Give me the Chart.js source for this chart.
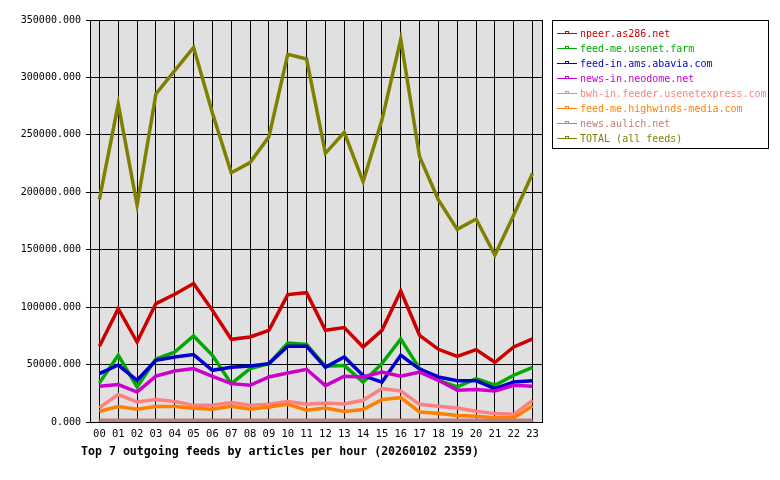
<!DOCTYPE html>
<html>
<head>
<meta charset="utf-8">
<script src="https://cdn.jsdelivr.net/npm/chart.js@4/dist/chart.umd.min.js"></script>
<style>
    html, body { margin: 0; padding: 0; background: #fff; }
    #wrap { position: relative; width: 780px; height: 480px; }
    #chart { position: absolute; left: 0; top: 0; }
    #title {
        position: absolute; left: 81px; top: 444px;
        font: bold 11.6px "DejaVu Sans Mono", monospace; color: #000; white-space: pre;
    }
    #legend {
        position: absolute; left: 552px; top: 20px; width: 217px; height: 129px;
        border: 1px solid #000; box-sizing: border-box; padding-top: 5px;
        font: 10px "DejaVu Sans Mono", monospace;
    }
    .row { position: relative; height: 15px; line-height: 15px; white-space: pre; }
    .swatch { position: absolute; left: 4px; top: 7px; width: 20px; height: 1px; }
    .mark { position: absolute; left: 8px; top: -2px; width: 2px; height: 1px; border: 1px solid; border-bottom: none; }
    .label { position: absolute; left: 27px; top: 0; }
</style>
</head>
<body>
<div id="wrap">
    <canvas id="chart" width="780" height="480"></canvas>
    <div id="title">Top 7 outgoing feeds by articles per hour (20260102 2359)</div>
    <div id="legend"></div>
</div>
<script>
const hours = ['00', '01', '02', '03', '04', '05', '06', '07', '08', '09', '10', '11',
    '12', '13', '14', '15', '16', '17', '18', '19', '20', '21', '22', '23'];

const yTicks = [0, 50000, 100000, 150000, 200000, 250000, 300000, 350000];

const npeer = [65900, 98700, 69600, 103100, 111200, 120500, 97200, 72000, 74000, 79800, 110900, 112600,
    79800, 82200, 65300, 79800, 114000, 75500, 63300, 57200, 63000, 52000, 65300, 72300];
const usenetFarm = [34000, 58100, 30500, 54800, 60900, 74900, 58100, 33400, 46500, 50800, 68800, 67600,
    48500, 49100, 34800, 50800, 72300, 46500, 36300, 30500, 37800, 32000, 40700, 47600];
const abavia = [42100, 49600, 36300, 53700, 56600, 58700, 45000, 47600, 48800, 50800, 65900, 65900,
    47600, 56600, 40400, 34600, 58100, 46100, 39200, 36000, 36000, 29100, 34800, 36000];
const neodome = [31100, 32600, 26100, 40000, 44400, 46500, 39800, 33400, 32000, 39200, 42700, 45900,
    31700, 39800, 39200, 43500, 39800, 43500, 36300, 27600, 28200, 27000, 32000, 31100];
const usenetexpress = [12500, 23900, 17400, 19500, 17800, 14500, 14500, 16900, 14500, 15400, 17800, 15400,
    16500, 15700, 18900, 29100, 27000, 15400, 13700, 12200, 9300, 7300, 6700, 18900];
const highwinds = [9300, 13400, 11100, 13400, 13400, 11900, 11100, 13700, 11100, 13100, 15400, 10200,
    12200, 9100, 10800, 19500, 21200, 8700, 7300, 5600, 5000, 3800, 3800, 13900];
const aulich = [1600, 1600, 1600, 1600, 1600, 1600, 1600, 1600, 1600, 1600, 1600, 1600,
    1600, 1600, 1600, 1600, 1600, 1600, 1600, 1600, 1600, 1600, 1600, 1600];
const total = [193900, 276800, 188900, 285600, 306000, 326200, 269000, 217000, 225800, 248400, 320100, 316000,
    233900, 252200, 209200, 262900, 333200, 231000, 193300, 167700, 176700, 145400, 180200, 216500];

const feeds = [
    { label: 'npeer.as286.net', data: npeer, color: '#cc0000' },
    { label: 'feed-me.usenet.farm', data: usenetFarm, color: '#00aa00' },
    { label: 'feed-in.ams.abavia.com', data: abavia, color: '#0000cc' },
    { label: 'news-in.neodome.net', data: neodome, color: '#cc00cc' },
    { label: 'bwh-in.feeder.usenetexpress.com', data: usenetexpress, color: '#ff8080' },
    { label: 'feed-me.highwinds-media.com', data: highwinds, color: '#ff8000' },
    { label: 'news.aulich.net', data: aulich, color: '#c08080' },
    { label: 'TOTAL (all feeds)', data: total, color: '#808000' },
];

Chart.defaults.font.family = '"DejaVu Sans Mono", monospace';
Chart.defaults.font.size = 10;
Chart.defaults.color = '#000';

// grey plot background + right-hand frame line
const plotFrame = {
    id: 'plotFrame',
    beforeDraw(chart) {
        const { ctx, chartArea: a } = chart;
        ctx.save();
        ctx.fillStyle = '#e0e0e0';
        ctx.fillRect(a.left, a.top, a.right - a.left, a.bottom - a.top);
        ctx.restore();
    },
    afterDraw(chart) {
        const { ctx, chartArea: a } = chart;
        ctx.save();
        ctx.strokeStyle = '#000';
        ctx.lineWidth = 1;
        ctx.beginPath();
        ctx.moveTo(Math.round(a.right) + 0.5, a.top);
        ctx.lineTo(Math.round(a.right) + 0.5, a.bottom + 1);
        ctx.stroke();
        ctx.restore();
    },
};

const datasets = feeds.map((feed, index) => ({
    label: feed.label,
    data: feed.data,
    borderColor: feed.color,
    backgroundColor: feed.color,
    borderWidth: 3.5,
    pointRadius: 0,
    tension: 0,
    fill: false,
    clip: false,
    order: feeds.length - index,
}));

new Chart(document.getElementById('chart'), {
    type: 'line',
    data: { labels: hours, datasets },
    options: {
        responsive: false,
        animation: false,
        events: [],
        layout: { padding: { left: 0, top: 20, right: 238, bottom: 36 } },
        plugins: {
            legend: { display: false },
            title: { display: false },
            tooltip: { enabled: false },
        },
        scales: {
            x: {
                offset: true,
                grid: { color: '#000', lineWidth: 1, drawTicks: false, offset: false },
                border: { color: '#000' },
                ticks: { padding: 6, maxRotation: 0, autoSkip: false, font: { size: 10.5 } },
                afterFit: (scale) => { scale.height = 22; },
            },
            y: {
                min: yTicks[0],
                max: yTicks[yTicks.length - 1],
                afterBuildTicks: (scale) => { scale.ticks = yTicks.map((value) => ({ value })); },
                grid: { color: '#000', lineWidth: 1, tickLength: 4 },
                border: { color: '#000' },
                ticks: { padding: 5, callback: (value) => Number(value).toFixed(3) },
                afterFit: (scale) => { scale.width = 90; },
            },
        },
    },
    plugins: [plotFrame],
});

const legend = document.getElementById('legend');
feeds.forEach((feed) => {
    const row = document.createElement('div');
    row.className = 'row';
    row.innerHTML = `<span class="swatch" style="background:${feed.color}"><span class="mark" style="border-color:${feed.color}"></span></span>`
        + `<span class="label" style="color:${feed.color}">${feed.label}</span>`;
    legend.appendChild(row);
});
</script>
</body>
</html>
